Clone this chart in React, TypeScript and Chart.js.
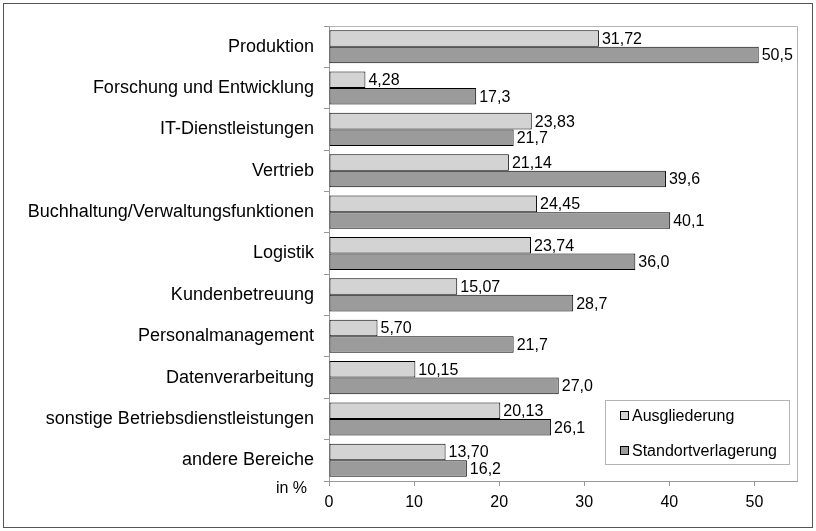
import React, { useEffect, useRef } from "react";
import { Chart, registerables } from "chart.js";

Chart.register(...registerables);

const categories = [
  "Produktion",
  "Forschung und Entwicklung",
  "IT-Dienstleistungen",
  "Vertrieb",
  "Buchhaltung/Verwaltungsfunktionen",
  "Logistik",
  "Kundenbetreuung",
  "Personalmanagement",
  "Datenverarbeitung",
  "sonstige Betriebsdienstleistungen",
  "andere Bereiche",
];

const ausgliederung = [31.72, 4.28, 23.83, 21.14, 24.45, 23.74, 15.07, 5.7, 10.15, 20.13, 13.7];
const standortverlagerung = [50.5, 17.3, 21.7, 39.6, 40.1, 36.0, 28.7, 21.7, 27.0, 26.1, 16.2];

const seriesNames = ["Ausgliederung", "Standortverlagerung"];
const seriesDecimals = [2, 1];
const xTicks = [0, 10, 20, 30, 40, 50];
const axisNote = "in %";

const LIGHT = "#d3d3d3";
const DARK = "#9b9b9b";
const FONT = "'Liberation Sans', Arial, sans-serif";

const fmt = (v: number, d: number) => v.toFixed(d).replace(".", ",");

const decorPlugin = {
  id: "decor",
  beforeDraw(chart: any) {
    const ctx = chart.ctx;
    ctx.save();
    ctx.fillStyle = "#ffffff";
    ctx.fillRect(0, 0, chart.width, chart.height);
    ctx.restore();
  },
  afterDraw(chart: any) {
    const ctx = chart.ctx;
    const { left, top, right, bottom } = chart.chartArea;
    ctx.save();
    ctx.strokeStyle = "#b4b4b4";
    ctx.lineWidth = 1;
    ctx.beginPath();
    ctx.moveTo(Math.round(left) + 0.5, Math.round(top) + 0.5);
    ctx.lineTo(Math.round(right) + 0.5, Math.round(top) + 0.5);
    ctx.lineTo(Math.round(right) + 0.5, Math.round(bottom) + 0.5);
    ctx.stroke();
    ctx.strokeStyle = "#555555";
    ctx.strokeRect(3.5, 3.5, chart.width - 7, chart.height - 7);
    ctx.fillStyle = "#000";
    ctx.font = `16px ${FONT}`;
    ctx.textAlign = "right";
    ctx.textBaseline = "middle";
    ctx.fillText(axisNote, 307, 489);
    const lx = 605.5, ly = 400.5, lw = 184, lh = 64;
    ctx.strokeStyle = "#b4b4b4";
    ctx.strokeRect(lx, ly, lw, lh);
    const colors = [LIGHT, DARK];
    const ys = [416, 451];
    ctx.font = `16px ${FONT}`;
    ctx.textAlign = "left";
    seriesNames.forEach((n, i) => {
      ctx.fillStyle = colors[i];
      ctx.fillRect(620.5, ys[i] - 4.5, 8, 8);
      ctx.strokeStyle = "#000";
      ctx.strokeRect(620.5, ys[i] - 4.5, 8, 8);
      ctx.fillStyle = "#000";
      ctx.fillText(n, 632, ys[i] + 0.5);
    });
    ctx.restore();
  },
  afterDatasetsDraw(chart: any) {
    const ctx = chart.ctx;
    ctx.save();
    ctx.fillStyle = "#000";
    ctx.font = `16px ${FONT}`;
    ctx.textAlign = "left";
    ctx.textBaseline = "middle";
    chart.data.datasets.forEach((ds: any, di: number) => {
      const meta = chart.getDatasetMeta(di);
      meta.data.forEach((el: any, i: number) => {
        ctx.fillText(fmt(ds.data[i], seriesDecimals[di]), el.x + 3, el.y + 1);
      });
    });
    ctx.restore();
  },
};

export default function App() {
  const ref = useRef<HTMLCanvasElement | null>(null);
  useEffect(() => {
    document.body.style.margin = "0";
    const canvas = ref.current!;
    const chart = new Chart(canvas, {
      type: "bar",
      data: {
        labels: categories,
        datasets: [
          {
            label: seriesNames[0],
            data: ausgliederung,
            backgroundColor: LIGHT,
            borderColor: "#000",
            borderWidth: 1,
            borderSkipped: false,
            categoryPercentage: 0.8,
            barPercentage: 1,
          },
          {
            label: seriesNames[1],
            data: standortverlagerung,
            backgroundColor: DARK,
            borderColor: "#000",
            borderWidth: 1,
            borderSkipped: false,
            categoryPercentage: 0.8,
            barPercentage: 1,
          },
        ],
      },
      options: {
        indexAxis: "y",
        responsive: false,
        animation: false,
        devicePixelRatio: 1,
        layout: { padding: { left: 0, right: 19, top: 26, bottom: 0 } },
        plugins: {
          legend: { display: false },
          tooltip: { enabled: false },
        },
        scales: {
          x: {
            min: 0,
            max: 55,
            afterBuildTicks: (scale: any) => {
              scale.ticks = xTicks.map((v) => ({ value: v }));
            },
            afterFit: (scale: any) => {
              scale.height = 50;
            },
            grid: { drawOnChartArea: false, drawTicks: true, tickLength: 5, color: "#999" },
            border: { color: "#999" },
            ticks: { color: "#000", font: { family: FONT, size: 16 }, padding: 7 },
          },
          y: {
            afterFit: (scale: any) => {
              scale.width = 329;
            },
            grid: { drawOnChartArea: false, drawTicks: true, tickLength: 5, color: "#999", offset: true },
            border: { color: "#999" },
            ticks: { color: "#000", font: { family: FONT, size: 18 }, padding: 10 },
          },
        },
      },
      plugins: [decorPlugin],
    } as any);
    return () => chart.destroy();
  }, []);
  return (
    <div style={{ width: 816, height: 531 }}>
      <canvas ref={ref} width={816} height={531} style={{ display: "block" }} />
    </div>
  );
}
